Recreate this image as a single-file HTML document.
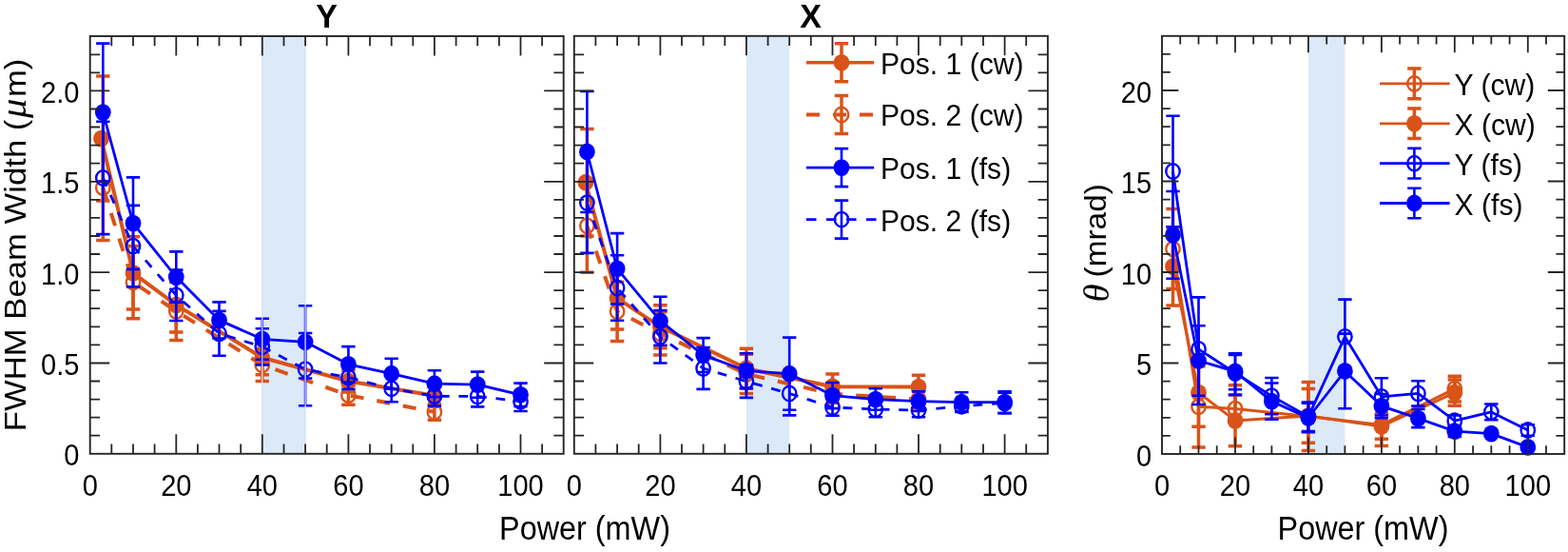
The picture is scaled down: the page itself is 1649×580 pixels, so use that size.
<!DOCTYPE html>
<html><head><meta charset="utf-8"><title>Beam width vs power</title>
<style>html,body{margin:0;padding:0;background:#fff;}svg{display:block;}</style>
</head><body>
<svg width="1649" height="580" viewBox="0 0 1649 580">
<rect width="1649" height="580" fill="#fff"/>
<rect x="275.8" y="38.0" width="45.3" height="438.8" fill="#DBE9F9"/>
<rect x="784.9" y="37.8" width="45.3" height="439.0" fill="#DBE9F9"/>
<rect x="1375.9" y="37.8" width="38.5" height="439.2" fill="#DBE9F9"/>
<path d="M106.5,145.6 L140.0,286.9 L185.3,320.4 L275.8,375.7 L366.4,400.5 L456.9,415.8" fill="none" stroke="#D95319" stroke-width="4.0" stroke-linejoin="round"/>
<path d="M108.3,80.1V211.0M101.1,80.1H115.5M101.1,211.0H115.5M140.0,248.7V325.0M132.8,248.7H147.2M132.8,325.0H147.2M185.3,291.8V349.0M178.1,291.8H192.5M178.1,349.0H192.5M275.8,357.6V393.8M268.6,357.6H283.0M268.6,393.8H283.0M366.4,389.1V412.0M359.2,389.1H373.6M359.2,412.0H373.6M456.9,404.3V427.2M449.7,404.3H464.1M449.7,427.2H464.1" fill="none" stroke="#D95319" stroke-width="3.5"/>
<ellipse cx="106.5" cy="145.6" rx="8.40" ry="8.90" fill="#D95319"/>
<ellipse cx="140.0" cy="286.9" rx="8.40" ry="8.90" fill="#D95319"/>
<ellipse cx="185.3" cy="320.4" rx="8.40" ry="8.90" fill="#D95319"/>
<ellipse cx="275.8" cy="375.7" rx="8.40" ry="8.90" fill="#D95319"/>
<ellipse cx="366.4" cy="400.5" rx="8.40" ry="8.90" fill="#D95319"/>
<ellipse cx="456.9" cy="415.8" rx="8.40" ry="8.90" fill="#D95319"/>
<path d="M108.3,197.2 L140.0,296.6 L185.3,326.9 L275.8,383.4 L366.4,415.2 L456.9,432.9" fill="none" stroke="#D95319" stroke-width="4.0" stroke-dasharray="14.0 14.0" stroke-linejoin="round"/>
<path d="M108.3,141.9V252.5M101.1,141.9H115.5M101.1,252.5H115.5M140.0,258.4V334.7M132.8,258.4H147.2M132.8,334.7H147.2M185.3,296.4V357.4M178.1,296.4H192.5M178.1,357.4H192.5M275.8,366.2V400.5M268.6,366.2H283.0M268.6,400.5H283.0M366.4,405.1V425.3M359.2,405.1H373.6M359.2,425.3H373.6M456.9,424.5V441.3M449.7,424.5H464.1M449.7,441.3H464.1" fill="none" stroke="#D95319" stroke-width="3.5"/>
<ellipse cx="108.3" cy="197.2" rx="7.20" ry="7.70" fill="none" stroke="#D95319" stroke-width="2.4"/>
<ellipse cx="140.0" cy="296.6" rx="7.20" ry="7.70" fill="none" stroke="#D95319" stroke-width="2.4"/>
<ellipse cx="185.3" cy="326.9" rx="7.20" ry="7.70" fill="none" stroke="#D95319" stroke-width="2.4"/>
<ellipse cx="275.8" cy="383.4" rx="7.20" ry="7.70" fill="none" stroke="#D95319" stroke-width="2.4"/>
<ellipse cx="366.4" cy="415.2" rx="7.20" ry="7.70" fill="none" stroke="#D95319" stroke-width="2.4"/>
<ellipse cx="456.9" cy="432.9" rx="7.20" ry="7.70" fill="none" stroke="#D95319" stroke-width="2.4"/>
<path d="M108.3,118.1 L140.0,234.6 L185.3,291.1 L230.5,336.4 L275.8,356.3 L321.1,359.3 L366.4,382.8 L411.7,392.7 L456.9,403.2 L502.2,404.1 L547.5,414.8" fill="none" stroke="#0000FF" stroke-width="2.8" stroke-linejoin="round"/>
<path d="M108.3,45.6V190.6M101.1,45.6H115.5M101.1,190.6H115.5M140.0,186.4V282.9M132.8,186.4H147.2M132.8,282.9H147.2M185.3,264.4V317.8M178.1,264.4H192.5M178.1,317.8H192.5M230.5,317.4V355.5M223.3,317.4H237.7M223.3,355.5H237.7M275.8,334.7V377.8M268.6,334.7H283.0M268.6,377.8H283.0M321.1,321.2V397.5M313.9,321.2H328.3M313.9,397.5H328.3M366.4,364.1V401.5M359.2,364.1H373.6M359.2,401.5H373.6M411.7,376.7V408.7M404.5,376.7H418.9M404.5,408.7H418.9M456.9,389.3V417.1M449.7,389.3H464.1M449.7,417.1H464.1M502.2,390.6V417.7M495.0,390.6H509.4M495.0,417.7H509.4M547.5,402.6V427.0M540.3,402.6H554.7M540.3,427.0H554.7" fill="none" stroke="#0000FF" stroke-width="2.6"/>
<ellipse cx="108.3" cy="118.1" rx="8.40" ry="8.90" fill="#0000FF"/>
<ellipse cx="140.0" cy="234.6" rx="8.40" ry="8.90" fill="#0000FF"/>
<ellipse cx="185.3" cy="291.1" rx="8.40" ry="8.90" fill="#0000FF"/>
<ellipse cx="230.5" cy="336.4" rx="8.40" ry="8.90" fill="#0000FF"/>
<ellipse cx="275.8" cy="356.3" rx="8.40" ry="8.90" fill="#0000FF"/>
<ellipse cx="321.1" cy="359.3" rx="8.40" ry="8.90" fill="#0000FF"/>
<ellipse cx="366.4" cy="382.8" rx="8.40" ry="8.90" fill="#0000FF"/>
<ellipse cx="411.7" cy="392.7" rx="8.40" ry="8.90" fill="#0000FF"/>
<ellipse cx="456.9" cy="403.2" rx="8.40" ry="8.90" fill="#0000FF"/>
<ellipse cx="502.2" cy="404.1" rx="8.40" ry="8.90" fill="#0000FF"/>
<ellipse cx="547.5" cy="414.8" rx="8.40" ry="8.90" fill="#0000FF"/>
<path d="M108.3,186.9 L140.0,258.6 L185.3,310.3 L230.5,350.4 L275.8,364.3 L321.1,388.1 L366.4,396.5 L411.7,408.3 L456.9,416.2 L502.2,416.5 L547.5,421.7" fill="none" stroke="#0000FF" stroke-width="2.8" stroke-dasharray="9.8 9.8" stroke-linejoin="round"/>
<path d="M108.3,127.8V246.1M101.1,127.8H115.5M101.1,246.1H115.5M140.0,215.9V301.4M132.8,215.9H147.2M132.8,301.4H147.2M185.3,283.6V337.0M178.1,283.6H192.5M178.1,337.0H192.5M230.5,326.9V373.8M223.3,326.9H237.7M223.3,373.8H237.7M275.8,345.2V383.4M268.6,345.2H283.0M268.6,383.4H283.0M321.1,350.0V426.3M313.9,350.0H328.3M313.9,426.3H328.3M366.4,384.1V408.9M359.2,384.1H373.6M359.2,408.9H373.6M411.7,394.4V422.3M404.5,394.4H418.9M404.5,422.3H418.9M456.9,405.9V426.5M449.7,405.9H464.1M449.7,426.5H464.1M502.2,405.7V427.4M495.0,405.7H509.4M495.0,427.4H509.4M547.5,411.4V432.0M540.3,411.4H554.7M540.3,432.0H554.7" fill="none" stroke="#0000FF" stroke-width="2.6"/>
<ellipse cx="108.3" cy="186.9" rx="7.20" ry="7.70" fill="none" stroke="#0000FF" stroke-width="2.4"/>
<ellipse cx="140.0" cy="258.6" rx="7.20" ry="7.70" fill="none" stroke="#0000FF" stroke-width="2.4"/>
<ellipse cx="185.3" cy="310.3" rx="7.20" ry="7.70" fill="none" stroke="#0000FF" stroke-width="2.4"/>
<ellipse cx="230.5" cy="350.4" rx="7.20" ry="7.70" fill="none" stroke="#0000FF" stroke-width="2.4"/>
<ellipse cx="275.8" cy="364.3" rx="7.20" ry="7.70" fill="none" stroke="#0000FF" stroke-width="2.4"/>
<ellipse cx="321.1" cy="388.1" rx="7.20" ry="7.70" fill="none" stroke="#0000FF" stroke-width="2.4"/>
<ellipse cx="366.4" cy="396.5" rx="7.20" ry="7.70" fill="none" stroke="#0000FF" stroke-width="2.4"/>
<ellipse cx="411.7" cy="408.3" rx="7.20" ry="7.70" fill="none" stroke="#0000FF" stroke-width="2.4"/>
<ellipse cx="456.9" cy="416.2" rx="7.20" ry="7.70" fill="none" stroke="#0000FF" stroke-width="2.4"/>
<ellipse cx="502.2" cy="416.5" rx="7.20" ry="7.70" fill="none" stroke="#0000FF" stroke-width="2.4"/>
<ellipse cx="547.5" cy="421.7" rx="7.20" ry="7.70" fill="none" stroke="#0000FF" stroke-width="2.4"/>
<line x1="275.8" y1="38.0" x2="275.8" y2="476.8" stroke="#d8e2f4" stroke-width="1.3"/>
<line x1="321.1" y1="38.0" x2="321.1" y2="476.8" stroke="#d8e2f4" stroke-width="1.3"/>
<path d="M117.3,476.8v-10.3M117.3,38.0v10.3M140.0,476.8v-10.3M140.0,38.0v10.3M162.6,476.8v-10.3M162.6,38.0v10.3M185.3,476.8v-20.5M185.3,38.0v20.5M207.9,476.8v-10.3M207.9,38.0v10.3M230.5,476.8v-10.3M230.5,38.0v10.3M253.2,476.8v-10.3M253.2,38.0v10.3M275.8,476.8v-20.5M275.8,38.0v20.5M298.5,476.8v-10.3M298.5,38.0v10.3M321.1,476.8v-10.3M321.1,38.0v10.3M343.7,476.8v-10.3M343.7,38.0v10.3M366.4,476.8v-20.5M366.4,38.0v20.5M389.0,476.8v-10.3M389.0,38.0v10.3M411.7,476.8v-10.3M411.7,38.0v10.3M434.3,476.8v-10.3M434.3,38.0v10.3M456.9,476.8v-20.5M456.9,38.0v20.5M479.6,476.8v-10.3M479.6,38.0v10.3M502.2,476.8v-10.3M502.2,38.0v10.3M524.9,476.8v-10.3M524.9,38.0v10.3M547.5,476.8v-20.5M547.5,38.0v20.5M570.1,476.8v-10.3M570.1,38.0v10.3M94.7,457.7h10.3M592.7,457.7h-10.3M94.7,438.7h10.3M592.7,438.7h-10.3M94.7,419.6h10.3M592.7,419.6h-10.3M94.7,400.5h10.3M592.7,400.5h-10.3M94.7,381.5h20.5M592.7,381.5h-20.5M94.7,362.4h10.3M592.7,362.4h-10.3M94.7,343.3h10.3M592.7,343.3h-10.3M94.7,324.2h10.3M592.7,324.2h-10.3M94.7,305.2h10.3M592.7,305.2h-10.3M94.7,286.1h20.5M592.7,286.1h-20.5M94.7,267.0h10.3M592.7,267.0h-10.3M94.7,248.0h10.3M592.7,248.0h-10.3M94.7,228.9h10.3M592.7,228.9h-10.3M94.7,209.8h10.3M592.7,209.8h-10.3M94.7,190.8h20.5M592.7,190.8h-20.5M94.7,171.7h10.3M592.7,171.7h-10.3M94.7,152.6h10.3M592.7,152.6h-10.3M94.7,133.5h10.3M592.7,133.5h-10.3M94.7,114.5h10.3M592.7,114.5h-10.3M94.7,95.4h20.5M592.7,95.4h-20.5M94.7,76.3h10.3M592.7,76.3h-10.3M94.7,57.3h10.3M592.7,57.3h-10.3" fill="none" stroke="#262626" stroke-width="1.8"/>
<rect x="94.7" y="38.0" width="498.0" height="438.8" fill="none" stroke="#262626" stroke-width="1.9"/>
<path d="M615.9,191.7 L649.1,313.4 L694.4,343.3 L784.9,387.2 L875.5,406.2 L966.0,406.6" fill="none" stroke="#D95319" stroke-width="4.0" stroke-linejoin="round"/>
<path d="M617.4,135.4V248.0M610.2,135.4H624.6M610.2,248.0H624.6M649.1,280.8V346.0M641.9,280.8H656.3M641.9,346.0H656.3M694.4,320.8V365.8M687.2,320.8H701.6M687.2,365.8H701.6M784.9,366.2V408.1M777.7,366.2H792.1M777.7,408.1H792.1M875.5,392.9V419.6M868.3,392.9H882.7M868.3,419.6H882.7M966.0,394.2V419.0M958.8,394.2H973.2M958.8,419.0H973.2" fill="none" stroke="#D95319" stroke-width="3.5"/>
<ellipse cx="615.9" cy="191.7" rx="8.40" ry="8.90" fill="#D95319"/>
<ellipse cx="649.1" cy="313.4" rx="8.40" ry="8.90" fill="#D95319"/>
<ellipse cx="694.4" cy="343.3" rx="8.40" ry="8.90" fill="#D95319"/>
<ellipse cx="784.9" cy="387.2" rx="8.40" ry="8.90" fill="#D95319"/>
<ellipse cx="875.5" cy="406.2" rx="8.40" ry="8.90" fill="#D95319"/>
<ellipse cx="966.0" cy="406.6" rx="8.40" ry="8.90" fill="#D95319"/>
<path d="M617.4,237.3 L649.1,327.3 L694.4,350.4 L784.9,392.9 L875.5,413.9 L966.0,419.6" fill="none" stroke="#D95319" stroke-width="4.0" stroke-dasharray="14.0 14.0" stroke-linejoin="round"/>
<path d="M617.4,188.3V286.3M610.2,188.3H624.6M610.2,286.3H624.6M649.1,296.2V358.4M641.9,296.2H656.3M641.9,358.4H656.3M694.4,327.7V373.1M687.2,327.7H701.6M687.2,373.1H701.6M784.9,372.3V413.5M777.7,372.3H792.1M777.7,413.5H792.1M875.5,404.3V423.4M868.3,404.3H882.7M868.3,423.4H882.7M966.0,410.1V429.1M958.8,410.1H973.2M958.8,429.1H973.2" fill="none" stroke="#D95319" stroke-width="3.5"/>
<ellipse cx="617.4" cy="237.3" rx="7.20" ry="7.70" fill="none" stroke="#D95319" stroke-width="2.4"/>
<ellipse cx="649.1" cy="327.3" rx="7.20" ry="7.70" fill="none" stroke="#D95319" stroke-width="2.4"/>
<ellipse cx="694.4" cy="350.4" rx="7.20" ry="7.70" fill="none" stroke="#D95319" stroke-width="2.4"/>
<ellipse cx="784.9" cy="392.9" rx="7.20" ry="7.70" fill="none" stroke="#D95319" stroke-width="2.4"/>
<ellipse cx="875.5" cy="413.9" rx="7.20" ry="7.70" fill="none" stroke="#D95319" stroke-width="2.4"/>
<ellipse cx="966.0" cy="419.6" rx="7.20" ry="7.70" fill="none" stroke="#D95319" stroke-width="2.4"/>
<path d="M617.4,159.5 L649.1,282.3 L694.4,337.2 L739.6,373.1 L784.9,389.7 L830.2,392.7 L875.5,415.6 L920.8,419.6 L966.0,421.7 L1011.3,422.6 L1056.6,422.6" fill="none" stroke="#0000FF" stroke-width="2.8" stroke-linejoin="round"/>
<path d="M617.4,96.0V223.0M610.2,96.0H624.6M610.2,223.0H624.6M649.1,245.1V319.5M641.9,245.1H656.3M641.9,319.5H656.3M694.4,311.7V362.8M687.2,311.7H701.6M687.2,362.8H701.6M739.6,355.1V391.0M732.4,355.1H746.8M732.4,391.0H746.8M784.9,371.2V408.1M777.7,371.2H792.1M777.7,408.1H792.1M830.2,354.6V430.8M823.0,354.6H837.4M823.0,430.8H837.4M875.5,402.0V429.1M868.3,402.0H882.7M868.3,429.1H882.7M920.8,408.3V430.8M913.6,408.3H928.0M913.6,430.8H928.0M966.0,411.4V432.0M958.8,411.4H973.2M958.8,432.0H973.2M1011.3,412.3V432.9M1004.1,412.3H1018.5M1004.1,432.9H1018.5M1056.6,411.2V434.1M1049.4,411.2H1063.8M1049.4,434.1H1063.8" fill="none" stroke="#0000FF" stroke-width="2.6"/>
<ellipse cx="617.4" cy="159.5" rx="8.40" ry="8.90" fill="#0000FF"/>
<ellipse cx="649.1" cy="282.3" rx="8.40" ry="8.90" fill="#0000FF"/>
<ellipse cx="694.4" cy="337.2" rx="8.40" ry="8.90" fill="#0000FF"/>
<ellipse cx="739.6" cy="373.1" rx="8.40" ry="8.90" fill="#0000FF"/>
<ellipse cx="784.9" cy="389.7" rx="8.40" ry="8.90" fill="#0000FF"/>
<ellipse cx="830.2" cy="392.7" rx="8.40" ry="8.90" fill="#0000FF"/>
<ellipse cx="875.5" cy="415.6" rx="8.40" ry="8.90" fill="#0000FF"/>
<ellipse cx="920.8" cy="419.6" rx="8.40" ry="8.90" fill="#0000FF"/>
<ellipse cx="966.0" cy="421.7" rx="8.40" ry="8.90" fill="#0000FF"/>
<ellipse cx="1011.3" cy="422.6" rx="8.40" ry="8.90" fill="#0000FF"/>
<ellipse cx="1056.6" cy="422.6" rx="8.40" ry="8.90" fill="#0000FF"/>
<path d="M617.4,213.1 L649.1,302.5 L694.4,353.8 L739.6,387.0 L784.9,400.7 L830.2,413.5 L875.5,428.0 L920.8,430.1 L966.0,431.0 L1011.3,426.8 L1056.6,423.4" fill="none" stroke="#0000FF" stroke-width="2.8" stroke-dasharray="9.8 9.8" stroke-linejoin="round"/>
<path d="M617.4,160.2V265.9M610.2,160.2H624.6M610.2,265.9H624.6M649.1,268.2V336.8M641.9,268.2H656.3M641.9,336.8H656.3M694.4,326.1V381.5M687.2,326.1H701.6M687.2,381.5H701.6M739.6,365.0V408.9M732.4,365.0H746.8M732.4,408.9H746.8M784.9,383.5V417.9M777.7,383.5H792.1M777.7,417.9H792.1M830.2,390.6V436.4M823.0,390.6H837.4M823.0,436.4H837.4M875.5,419.2V436.8M868.3,419.2H882.7M868.3,436.8H882.7M920.8,421.9V438.3M913.6,421.9H928.0M913.6,438.3H928.0M966.0,423.8V438.3M958.8,423.8H973.2M958.8,438.3H973.2M1011.3,421.1V432.6M1004.1,421.1H1018.5M1004.1,432.6H1018.5M1056.6,412.7V434.1M1049.4,412.7H1063.8M1049.4,434.1H1063.8" fill="none" stroke="#0000FF" stroke-width="2.6"/>
<ellipse cx="617.4" cy="213.1" rx="7.20" ry="7.70" fill="none" stroke="#0000FF" stroke-width="2.4"/>
<ellipse cx="649.1" cy="302.5" rx="7.20" ry="7.70" fill="none" stroke="#0000FF" stroke-width="2.4"/>
<ellipse cx="694.4" cy="353.8" rx="7.20" ry="7.70" fill="none" stroke="#0000FF" stroke-width="2.4"/>
<ellipse cx="739.6" cy="387.0" rx="7.20" ry="7.70" fill="none" stroke="#0000FF" stroke-width="2.4"/>
<ellipse cx="784.9" cy="400.7" rx="7.20" ry="7.70" fill="none" stroke="#0000FF" stroke-width="2.4"/>
<ellipse cx="830.2" cy="413.5" rx="7.20" ry="7.70" fill="none" stroke="#0000FF" stroke-width="2.4"/>
<ellipse cx="875.5" cy="428.0" rx="7.20" ry="7.70" fill="none" stroke="#0000FF" stroke-width="2.4"/>
<ellipse cx="920.8" cy="430.1" rx="7.20" ry="7.70" fill="none" stroke="#0000FF" stroke-width="2.4"/>
<ellipse cx="966.0" cy="431.0" rx="7.20" ry="7.70" fill="none" stroke="#0000FF" stroke-width="2.4"/>
<ellipse cx="1011.3" cy="426.8" rx="7.20" ry="7.70" fill="none" stroke="#0000FF" stroke-width="2.4"/>
<ellipse cx="1056.6" cy="423.4" rx="7.20" ry="7.70" fill="none" stroke="#0000FF" stroke-width="2.4"/>
<path d="M626.4,476.8v-10.3M626.4,37.8v10.3M649.1,476.8v-10.3M649.1,37.8v10.3M671.7,476.8v-10.3M671.7,37.8v10.3M694.4,476.8v-20.5M694.4,37.8v20.5M717.0,476.8v-10.3M717.0,37.8v10.3M739.6,476.8v-10.3M739.6,37.8v10.3M762.3,476.8v-10.3M762.3,37.8v10.3M784.9,476.8v-20.5M784.9,37.8v20.5M807.6,476.8v-10.3M807.6,37.8v10.3M830.2,476.8v-10.3M830.2,37.8v10.3M852.8,476.8v-10.3M852.8,37.8v10.3M875.5,476.8v-20.5M875.5,37.8v20.5M898.1,476.8v-10.3M898.1,37.8v10.3M920.8,476.8v-10.3M920.8,37.8v10.3M943.4,476.8v-10.3M943.4,37.8v10.3M966.0,476.8v-20.5M966.0,37.8v20.5M988.7,476.8v-10.3M988.7,37.8v10.3M1011.3,476.8v-10.3M1011.3,37.8v10.3M1034.0,476.8v-10.3M1034.0,37.8v10.3M1056.6,476.8v-20.5M1056.6,37.8v20.5M1079.2,476.8v-10.3M1079.2,37.8v10.3M603.8,457.7h10.3M1101.9,457.7h-10.3M603.8,438.7h10.3M1101.9,438.7h-10.3M603.8,419.6h10.3M1101.9,419.6h-10.3M603.8,400.5h10.3M1101.9,400.5h-10.3M603.8,381.5h20.5M1101.9,381.5h-20.5M603.8,362.4h10.3M1101.9,362.4h-10.3M603.8,343.3h10.3M1101.9,343.3h-10.3M603.8,324.2h10.3M1101.9,324.2h-10.3M603.8,305.2h10.3M1101.9,305.2h-10.3M603.8,286.1h20.5M1101.9,286.1h-20.5M603.8,267.0h10.3M1101.9,267.0h-10.3M603.8,248.0h10.3M1101.9,248.0h-10.3M603.8,228.9h10.3M1101.9,228.9h-10.3M603.8,209.8h10.3M1101.9,209.8h-10.3M603.8,190.8h20.5M1101.9,190.8h-20.5M603.8,171.7h10.3M1101.9,171.7h-10.3M603.8,152.6h10.3M1101.9,152.6h-10.3M603.8,133.5h10.3M1101.9,133.5h-10.3M603.8,114.5h10.3M1101.9,114.5h-10.3M603.8,95.4h20.5M1101.9,95.4h-20.5M603.8,76.3h10.3M1101.9,76.3h-10.3M603.8,57.3h10.3M1101.9,57.3h-10.3" fill="none" stroke="#262626" stroke-width="1.8"/>
<rect x="603.8" y="37.8" width="498.1" height="439.0" fill="none" stroke="#262626" stroke-width="1.9"/>
<path d="M1233.5,261.6 L1260.5,427.3 L1299.0,429.6 L1375.9,437.5 L1452.9,446.4 L1529.8,408.6" fill="none" stroke="#D95319" stroke-width="3.0" stroke-linejoin="round"/>
<path d="M1233.5,219.5V303.6M1226.3,219.5H1240.7M1226.3,303.6H1240.7M1260.5,384.7V469.9M1253.3,384.7H1267.7M1253.3,469.9H1267.7M1299.0,404.8V441.1M1291.8,404.8H1306.2M1291.8,441.1H1306.2M1375.9,401.4V473.6M1368.7,401.4H1383.1M1368.7,473.6H1383.1M1452.9,424.3V468.6M1445.7,424.3H1460.1M1445.7,468.6H1460.1M1529.8,395.3V422.0M1522.6,395.3H1537.0M1522.6,422.0H1537.0" fill="none" stroke="#D95319" stroke-width="3.5"/>
<ellipse cx="1233.5" cy="261.6" rx="7.20" ry="7.70" fill="none" stroke="#D95319" stroke-width="2.4"/>
<ellipse cx="1260.5" cy="427.3" rx="7.20" ry="7.70" fill="none" stroke="#D95319" stroke-width="2.4"/>
<ellipse cx="1299.0" cy="429.6" rx="7.20" ry="7.70" fill="none" stroke="#D95319" stroke-width="2.4"/>
<ellipse cx="1375.9" cy="437.5" rx="7.20" ry="7.70" fill="none" stroke="#D95319" stroke-width="2.4"/>
<ellipse cx="1452.9" cy="446.4" rx="7.20" ry="7.70" fill="none" stroke="#D95319" stroke-width="2.4"/>
<ellipse cx="1529.8" cy="408.6" rx="7.20" ry="7.70" fill="none" stroke="#D95319" stroke-width="2.4"/>
<path d="M1233.5,280.1 L1260.5,412.6 L1299.0,441.9 L1375.9,436.9 L1452.9,448.0 L1529.8,412.6" fill="none" stroke="#D95319" stroke-width="3.0" stroke-linejoin="round"/>
<path d="M1233.5,239.0V321.1M1226.3,239.0H1240.7M1226.3,321.1H1240.7M1260.5,377.1V448.2M1253.3,377.1H1267.7M1253.3,448.2H1267.7M1299.0,414.9V468.8M1291.8,414.9H1306.2M1291.8,468.8H1306.2M1375.9,408.6V465.2M1368.7,408.6H1383.1M1368.7,465.2H1383.1M1452.9,434.6V461.3M1445.7,434.6H1460.1M1445.7,461.3H1460.1M1529.8,399.1V426.2M1522.6,399.1H1537.0M1522.6,426.2H1537.0" fill="none" stroke="#D95319" stroke-width="3.5"/>
<ellipse cx="1233.5" cy="280.1" rx="8.40" ry="8.90" fill="#D95319"/>
<ellipse cx="1260.5" cy="412.6" rx="8.40" ry="8.90" fill="#D95319"/>
<ellipse cx="1299.0" cy="441.9" rx="8.40" ry="8.90" fill="#D95319"/>
<ellipse cx="1375.9" cy="436.9" rx="8.40" ry="8.90" fill="#D95319"/>
<ellipse cx="1452.9" cy="448.0" rx="8.40" ry="8.90" fill="#D95319"/>
<ellipse cx="1529.8" cy="412.6" rx="8.40" ry="8.90" fill="#D95319"/>
<path d="M1233.5,180.0 L1260.5,366.8 L1299.0,392.0 L1337.4,416.1 L1375.9,437.8 L1414.4,353.8 L1452.9,416.8 L1491.4,413.4 L1529.8,442.2 L1568.3,432.9 L1606.8,452.0" fill="none" stroke="#0000FF" stroke-width="2.8" stroke-linejoin="round"/>
<path d="M1233.5,121.7V238.2M1226.3,121.7H1240.7M1226.3,238.2H1240.7M1260.5,312.4V425.0M1253.3,312.4H1267.7M1253.3,425.0H1267.7M1299.0,372.9V414.9M1291.8,372.9H1306.2M1291.8,414.9H1306.2M1337.4,397.0V435.2M1330.2,397.0H1344.6M1330.2,435.2H1344.6M1375.9,422.6V453.1M1368.7,422.6H1383.1M1368.7,453.1H1383.1M1414.4,314.6V393.0M1407.2,314.6H1421.6M1407.2,393.0H1421.6M1452.9,397.2V436.5M1445.7,397.2H1460.1M1445.7,436.5H1460.1M1491.4,400.2V426.6M1484.2,400.2H1498.6M1484.2,426.6H1498.6M1529.8,436.5V448.0M1522.6,436.5H1537.0M1522.6,448.0H1537.0M1568.3,424.5V441.3M1561.1,424.5H1575.5M1561.1,441.3H1575.5M1606.8,446.2V457.7M1599.6,446.2H1614.0M1599.6,457.7H1614.0" fill="none" stroke="#0000FF" stroke-width="2.6"/>
<ellipse cx="1233.5" cy="180.0" rx="7.20" ry="7.70" fill="none" stroke="#0000FF" stroke-width="2.4"/>
<ellipse cx="1260.5" cy="366.8" rx="7.20" ry="7.70" fill="none" stroke="#0000FF" stroke-width="2.4"/>
<ellipse cx="1299.0" cy="392.0" rx="7.20" ry="7.70" fill="none" stroke="#0000FF" stroke-width="2.4"/>
<ellipse cx="1337.4" cy="416.1" rx="7.20" ry="7.70" fill="none" stroke="#0000FF" stroke-width="2.4"/>
<ellipse cx="1375.9" cy="437.8" rx="7.20" ry="7.70" fill="none" stroke="#0000FF" stroke-width="2.4"/>
<ellipse cx="1414.4" cy="353.8" rx="7.20" ry="7.70" fill="none" stroke="#0000FF" stroke-width="2.4"/>
<ellipse cx="1452.9" cy="416.8" rx="7.20" ry="7.70" fill="none" stroke="#0000FF" stroke-width="2.4"/>
<ellipse cx="1491.4" cy="413.4" rx="7.20" ry="7.70" fill="none" stroke="#0000FF" stroke-width="2.4"/>
<ellipse cx="1529.8" cy="442.2" rx="7.20" ry="7.70" fill="none" stroke="#0000FF" stroke-width="2.4"/>
<ellipse cx="1568.3" cy="432.9" rx="7.20" ry="7.70" fill="none" stroke="#0000FF" stroke-width="2.4"/>
<ellipse cx="1606.8" cy="452.0" rx="7.20" ry="7.70" fill="none" stroke="#0000FF" stroke-width="2.4"/>
<path d="M1233.5,246.8 L1260.5,379.0 L1299.0,390.3 L1337.4,421.6 L1375.9,439.0 L1414.4,389.9 L1452.9,426.6 L1491.4,439.6 L1529.8,453.1 L1568.3,455.6 L1606.8,469.9" fill="none" stroke="#0000FF" stroke-width="2.8" stroke-linejoin="round"/>
<path d="M1233.5,201.0V292.7M1226.3,201.0H1240.7M1226.3,292.7H1240.7M1260.5,342.3V415.7M1253.3,342.3H1267.7M1253.3,415.7H1267.7M1299.0,371.4V409.2M1291.8,371.4H1306.2M1291.8,409.2H1306.2M1337.4,402.5V440.7M1330.2,402.5H1344.6M1330.2,440.7H1344.6M1375.9,423.7V454.3M1368.7,423.7H1383.1M1368.7,454.3H1383.1M1414.4,350.6V429.2M1407.2,350.6H1421.6M1407.2,429.2H1421.6M1452.9,414.0V439.2M1445.7,414.0H1460.1M1445.7,439.2H1460.1M1491.4,430.0V449.1M1484.2,430.0H1498.6M1484.2,449.1H1498.6M1529.8,447.4V458.9M1522.6,447.4H1537.0M1522.6,458.9H1537.0M1568.3,453.7V457.5M1561.1,453.7H1575.5M1561.1,457.5H1575.5M1606.8,468.0V471.8M1599.6,468.0H1614.0M1599.6,471.8H1614.0" fill="none" stroke="#0000FF" stroke-width="2.6"/>
<ellipse cx="1233.5" cy="246.8" rx="8.40" ry="8.90" fill="#0000FF"/>
<ellipse cx="1260.5" cy="379.0" rx="8.40" ry="8.90" fill="#0000FF"/>
<ellipse cx="1299.0" cy="390.3" rx="8.40" ry="8.90" fill="#0000FF"/>
<ellipse cx="1337.4" cy="421.6" rx="8.40" ry="8.90" fill="#0000FF"/>
<ellipse cx="1375.9" cy="439.0" rx="8.40" ry="8.90" fill="#0000FF"/>
<ellipse cx="1414.4" cy="389.9" rx="8.40" ry="8.90" fill="#0000FF"/>
<ellipse cx="1452.9" cy="426.6" rx="8.40" ry="8.90" fill="#0000FF"/>
<ellipse cx="1491.4" cy="439.6" rx="8.40" ry="8.90" fill="#0000FF"/>
<ellipse cx="1529.8" cy="453.1" rx="8.40" ry="8.90" fill="#0000FF"/>
<ellipse cx="1568.3" cy="455.6" rx="8.40" ry="8.90" fill="#0000FF"/>
<ellipse cx="1606.8" cy="469.9" rx="8.40" ry="8.90" fill="#0000FF"/>
<path d="M1241.2,477.0v-8.8M1241.2,37.8v8.8M1260.5,477.0v-8.8M1260.5,37.8v8.8M1279.7,477.0v-8.8M1279.7,37.8v8.8M1299.0,477.0v-17.4M1299.0,37.8v17.4M1318.2,477.0v-8.8M1318.2,37.8v8.8M1337.4,477.0v-8.8M1337.4,37.8v8.8M1356.7,477.0v-8.8M1356.7,37.8v8.8M1375.9,477.0v-17.4M1375.9,37.8v17.4M1395.2,477.0v-8.8M1395.2,37.8v8.8M1414.4,477.0v-8.8M1414.4,37.8v8.8M1433.6,477.0v-8.8M1433.6,37.8v8.8M1452.9,477.0v-17.4M1452.9,37.8v17.4M1472.1,477.0v-8.8M1472.1,37.8v8.8M1491.4,477.0v-8.8M1491.4,37.8v8.8M1510.6,477.0v-8.8M1510.6,37.8v8.8M1529.8,477.0v-17.4M1529.8,37.8v17.4M1549.1,477.0v-8.8M1549.1,37.8v8.8M1568.3,477.0v-8.8M1568.3,37.8v8.8M1587.6,477.0v-8.8M1587.6,37.8v8.8M1606.8,477.0v-17.4M1606.8,37.8v17.4M1626.0,477.0v-8.8M1626.0,37.8v8.8M1222.0,457.9h8.8M1645.2,457.9h-8.8M1222.0,438.8h8.8M1645.2,438.8h-8.8M1222.0,419.7h8.8M1645.2,419.7h-8.8M1222.0,400.6h8.8M1645.2,400.6h-8.8M1222.0,381.5h17.4M1645.2,381.5h-17.4M1222.0,362.4h8.8M1645.2,362.4h-8.8M1222.0,343.3h8.8M1645.2,343.3h-8.8M1222.0,324.2h8.8M1645.2,324.2h-8.8M1222.0,305.1h8.8M1645.2,305.1h-8.8M1222.0,286.0h17.4M1645.2,286.0h-17.4M1222.0,266.9h8.8M1645.2,266.9h-8.8M1222.0,247.8h8.8M1645.2,247.8h-8.8M1222.0,228.7h8.8M1645.2,228.7h-8.8M1222.0,209.6h8.8M1645.2,209.6h-8.8M1222.0,190.5h17.4M1645.2,190.5h-17.4M1222.0,171.4h8.8M1645.2,171.4h-8.8M1222.0,152.3h8.8M1645.2,152.3h-8.8M1222.0,133.2h8.8M1645.2,133.2h-8.8M1222.0,114.1h8.8M1645.2,114.1h-8.8M1222.0,95.0h17.4M1645.2,95.0h-17.4M1222.0,75.9h8.8M1645.2,75.9h-8.8M1222.0,56.8h8.8M1645.2,56.8h-8.8" fill="none" stroke="#262626" stroke-width="1.8"/>
<rect x="1222.0" y="37.8" width="423.2" height="439.2" fill="none" stroke="#262626" stroke-width="1.9"/>
<text transform="translate(83.4,489.4) scale(0.9311,1)" font-size="31.2" text-anchor="end" font-family="'Liberation Sans', Arial, Helvetica, sans-serif" fill="#000">0</text>
<text transform="translate(83.4,394.1) scale(0.9311,1)" font-size="31.2" text-anchor="end" font-family="'Liberation Sans', Arial, Helvetica, sans-serif" fill="#000">0.5</text>
<text transform="translate(83.4,298.7) scale(0.9311,1)" font-size="31.2" text-anchor="end" font-family="'Liberation Sans', Arial, Helvetica, sans-serif" fill="#000">1.0</text>
<text transform="translate(83.4,203.4) scale(0.9311,1)" font-size="31.2" text-anchor="end" font-family="'Liberation Sans', Arial, Helvetica, sans-serif" fill="#000">1.5</text>
<text transform="translate(83.4,108.0) scale(0.9311,1)" font-size="31.2" text-anchor="end" font-family="'Liberation Sans', Arial, Helvetica, sans-serif" fill="#000">2.0</text>
<text transform="translate(1211.1,489.6) scale(0.9311,1)" font-size="31.2" text-anchor="end" font-family="'Liberation Sans', Arial, Helvetica, sans-serif" fill="#000">0</text>
<text transform="translate(1211.1,394.1) scale(0.9311,1)" font-size="31.2" text-anchor="end" font-family="'Liberation Sans', Arial, Helvetica, sans-serif" fill="#000">5</text>
<text transform="translate(1211.1,298.6) scale(0.9311,1)" font-size="31.2" text-anchor="end" font-family="'Liberation Sans', Arial, Helvetica, sans-serif" fill="#000">10</text>
<text transform="translate(1211.1,203.1) scale(0.9311,1)" font-size="31.2" text-anchor="end" font-family="'Liberation Sans', Arial, Helvetica, sans-serif" fill="#000">15</text>
<text transform="translate(1211.1,107.6) scale(0.9311,1)" font-size="31.2" text-anchor="end" font-family="'Liberation Sans', Arial, Helvetica, sans-serif" fill="#000">20</text>
<text transform="translate(94.7,520.6) scale(0.9311,1)" font-size="31.2" text-anchor="middle" font-family="'Liberation Sans', Arial, Helvetica, sans-serif" fill="#000">0</text>
<text transform="translate(185.3,520.6) scale(0.9311,1)" font-size="31.2" text-anchor="middle" font-family="'Liberation Sans', Arial, Helvetica, sans-serif" fill="#000">20</text>
<text transform="translate(275.8,520.6) scale(0.9311,1)" font-size="31.2" text-anchor="middle" font-family="'Liberation Sans', Arial, Helvetica, sans-serif" fill="#000">40</text>
<text transform="translate(366.4,520.6) scale(0.9311,1)" font-size="31.2" text-anchor="middle" font-family="'Liberation Sans', Arial, Helvetica, sans-serif" fill="#000">60</text>
<text transform="translate(456.9,520.6) scale(0.9311,1)" font-size="31.2" text-anchor="middle" font-family="'Liberation Sans', Arial, Helvetica, sans-serif" fill="#000">80</text>
<text transform="translate(547.5,520.6) scale(0.9311,1)" font-size="31.2" text-anchor="middle" font-family="'Liberation Sans', Arial, Helvetica, sans-serif" fill="#000">100</text>
<text transform="translate(603.8,520.6) scale(0.9311,1)" font-size="31.2" text-anchor="middle" font-family="'Liberation Sans', Arial, Helvetica, sans-serif" fill="#000">0</text>
<text transform="translate(694.4,520.6) scale(0.9311,1)" font-size="31.2" text-anchor="middle" font-family="'Liberation Sans', Arial, Helvetica, sans-serif" fill="#000">20</text>
<text transform="translate(784.9,520.6) scale(0.9311,1)" font-size="31.2" text-anchor="middle" font-family="'Liberation Sans', Arial, Helvetica, sans-serif" fill="#000">40</text>
<text transform="translate(875.5,520.6) scale(0.9311,1)" font-size="31.2" text-anchor="middle" font-family="'Liberation Sans', Arial, Helvetica, sans-serif" fill="#000">60</text>
<text transform="translate(966.0,520.6) scale(0.9311,1)" font-size="31.2" text-anchor="middle" font-family="'Liberation Sans', Arial, Helvetica, sans-serif" fill="#000">80</text>
<text transform="translate(1056.6,520.6) scale(0.9311,1)" font-size="31.2" text-anchor="middle" font-family="'Liberation Sans', Arial, Helvetica, sans-serif" fill="#000">100</text>
<text transform="translate(1222.0,520.6) scale(0.9311,1)" font-size="31.2" text-anchor="middle" font-family="'Liberation Sans', Arial, Helvetica, sans-serif" fill="#000">0</text>
<text transform="translate(1299.0,520.6) scale(0.9311,1)" font-size="31.2" text-anchor="middle" font-family="'Liberation Sans', Arial, Helvetica, sans-serif" fill="#000">20</text>
<text transform="translate(1375.9,520.6) scale(0.9311,1)" font-size="31.2" text-anchor="middle" font-family="'Liberation Sans', Arial, Helvetica, sans-serif" fill="#000">40</text>
<text transform="translate(1452.9,520.6) scale(0.9311,1)" font-size="31.2" text-anchor="middle" font-family="'Liberation Sans', Arial, Helvetica, sans-serif" fill="#000">60</text>
<text transform="translate(1529.8,520.6) scale(0.9311,1)" font-size="31.2" text-anchor="middle" font-family="'Liberation Sans', Arial, Helvetica, sans-serif" fill="#000">80</text>
<text transform="translate(1606.8,520.6) scale(0.9311,1)" font-size="31.2" text-anchor="middle" font-family="'Liberation Sans', Arial, Helvetica, sans-serif" fill="#000">100</text>
<text transform="translate(615.0,566.9) scale(0.9311,1)" font-size="34.8" text-anchor="middle" font-family="'Liberation Sans', Arial, Helvetica, sans-serif" fill="#000">Power (mW)</text>
<text transform="translate(1433.5,566.9) scale(0.9311,1)" font-size="34.8" text-anchor="middle" font-family="'Liberation Sans', Arial, Helvetica, sans-serif" fill="#000">Power (mW)</text>
<text transform="translate(343.6,29.0) scale(0.9590,1)" font-size="35.5" text-anchor="middle" font-weight="bold" font-family="'Liberation Sans', Arial, Helvetica, sans-serif" fill="#000">Y</text>
<text transform="translate(852.5,28.6) scale(0.9590,1)" font-size="35.5" text-anchor="middle" font-weight="bold" font-family="'Liberation Sans', Arial, Helvetica, sans-serif" fill="#000">X</text>
<text transform="translate(27.4,257.4) rotate(-90) scale(1.091,1)" font-size="31.8" text-anchor="middle" font-family="'Liberation Sans', Arial, Helvetica, sans-serif" fill="#000">FWHM Beam Width (<tspan font-family="'Liberation Serif', serif" font-style="italic" font-size="37" dx="1.5">μ</tspan><tspan dx="1.5">m)</tspan></text>
<text transform="translate(1162.6,193.2) rotate(-90) scale(1.049,1)" font-size="31.8" text-anchor="end" font-family="'Liberation Sans', Arial, Helvetica, sans-serif" fill="#000"><tspan font-family="'Liberation Serif', serif" font-style="italic" font-size="37" dy="3">θ</tspan><tspan dx="-2" dy="-3"> (mrad)</tspan></text>
<line x1="848" y1="65.8" x2="919" y2="65.8" stroke="#D95319" stroke-width="3.6"/>
<path d="M885,45.8V85.8M877.8,45.8H892.2M877.8,85.8H892.2" fill="none" stroke="#D95319" stroke-width="3.5"/>
<ellipse cx="885.0" cy="65.8" rx="8.40" ry="8.90" fill="#D95319"/>
<text transform="translate(926.0,77.7) scale(0.9590,1)" font-size="31.4" text-anchor="start" font-family="'Liberation Sans', Arial, Helvetica, sans-serif" fill="#000">Pos. 1 (cw)</text>
<line x1="848" y1="120.5" x2="918" y2="120.5" stroke="#D95319" stroke-width="3.8" stroke-dasharray="14 14"/>
<path d="M885,100.5V140.5M877.8,100.5H892.2M877.8,140.5H892.2" fill="none" stroke="#D95319" stroke-width="3.5"/>
<ellipse cx="885.0" cy="120.5" rx="7.20" ry="7.70" fill="none" stroke="#D95319" stroke-width="2.4"/>
<text transform="translate(926.0,132.4) scale(0.9590,1)" font-size="31.4" text-anchor="start" font-family="'Liberation Sans', Arial, Helvetica, sans-serif" fill="#000">Pos. 2 (cw)</text>
<line x1="848" y1="176.1" x2="919" y2="176.1" stroke="#0000FF" stroke-width="2.8"/>
<path d="M885,156.1V196.1M877.8,156.1H892.2M877.8,196.1H892.2" fill="none" stroke="#0000FF" stroke-width="2.6"/>
<ellipse cx="885.0" cy="176.1" rx="8.40" ry="8.90" fill="#0000FF"/>
<text transform="translate(926.0,188.0) scale(0.9590,1)" font-size="31.4" text-anchor="start" font-family="'Liberation Sans', Arial, Helvetica, sans-serif" fill="#000">Pos. 1 (fs)</text>
<line x1="848" y1="230.6" x2="921.5" y2="230.6" stroke="#0000FF" stroke-width="2.8" stroke-dasharray="10.5 10.5"/>
<path d="M885,210.6V250.6M877.8,210.6H892.2M877.8,250.6H892.2" fill="none" stroke="#0000FF" stroke-width="2.6"/>
<ellipse cx="885.0" cy="230.6" rx="7.20" ry="7.70" fill="none" stroke="#0000FF" stroke-width="2.4"/>
<text transform="translate(926.0,242.5) scale(0.9590,1)" font-size="31.4" text-anchor="start" font-family="'Liberation Sans', Arial, Helvetica, sans-serif" fill="#000">Pos. 2 (fs)</text>
<line x1="1451" y1="87.9" x2="1524.6" y2="87.9" stroke="#D95319" stroke-width="2.8"/>
<path d="M1487.4,72.10000000000001V103.7M1480.2,72.10000000000001H1494.6000000000001M1480.2,103.7H1494.6000000000001" fill="none" stroke="#D95319" stroke-width="3.5"/>
<ellipse cx="1487.4" cy="87.9" rx="7.20" ry="7.70" fill="none" stroke="#D95319" stroke-width="2.4"/>
<text transform="translate(1529.6,100.3) scale(0.9590,1)" font-size="31.4" text-anchor="start" font-family="'Liberation Sans', Arial, Helvetica, sans-serif" fill="#000">Y (cw)</text>
<line x1="1451" y1="129.8" x2="1524.6" y2="129.8" stroke="#D95319" stroke-width="2.8"/>
<path d="M1487.4,114.00000000000001V145.60000000000002M1480.2,114.00000000000001H1494.6000000000001M1480.2,145.60000000000002H1494.6000000000001" fill="none" stroke="#D95319" stroke-width="3.5"/>
<ellipse cx="1487.4" cy="129.8" rx="8.40" ry="8.90" fill="#D95319"/>
<text transform="translate(1529.6,142.2) scale(0.9590,1)" font-size="31.4" text-anchor="start" font-family="'Liberation Sans', Arial, Helvetica, sans-serif" fill="#000">X (cw)</text>
<line x1="1451" y1="171.7" x2="1524.6" y2="171.7" stroke="#0000FF" stroke-width="2.8"/>
<path d="M1487.4,155.89999999999998V187.5M1480.2,155.89999999999998H1494.6000000000001M1480.2,187.5H1494.6000000000001" fill="none" stroke="#0000FF" stroke-width="2.6"/>
<ellipse cx="1487.4" cy="171.7" rx="7.20" ry="7.70" fill="none" stroke="#0000FF" stroke-width="2.4"/>
<text transform="translate(1529.6,184.1) scale(0.9590,1)" font-size="31.4" text-anchor="start" font-family="'Liberation Sans', Arial, Helvetica, sans-serif" fill="#000">Y (fs)</text>
<line x1="1451" y1="213.5" x2="1524.6" y2="213.5" stroke="#0000FF" stroke-width="2.8"/>
<path d="M1487.4,197.7V229.3M1480.2,197.7H1494.6000000000001M1480.2,229.3H1494.6000000000001" fill="none" stroke="#0000FF" stroke-width="2.6"/>
<ellipse cx="1487.4" cy="213.5" rx="8.40" ry="8.90" fill="#0000FF"/>
<text transform="translate(1529.6,225.9) scale(0.9590,1)" font-size="31.4" text-anchor="start" font-family="'Liberation Sans', Arial, Helvetica, sans-serif" fill="#000">X (fs)</text>
</svg>
</body></html>
